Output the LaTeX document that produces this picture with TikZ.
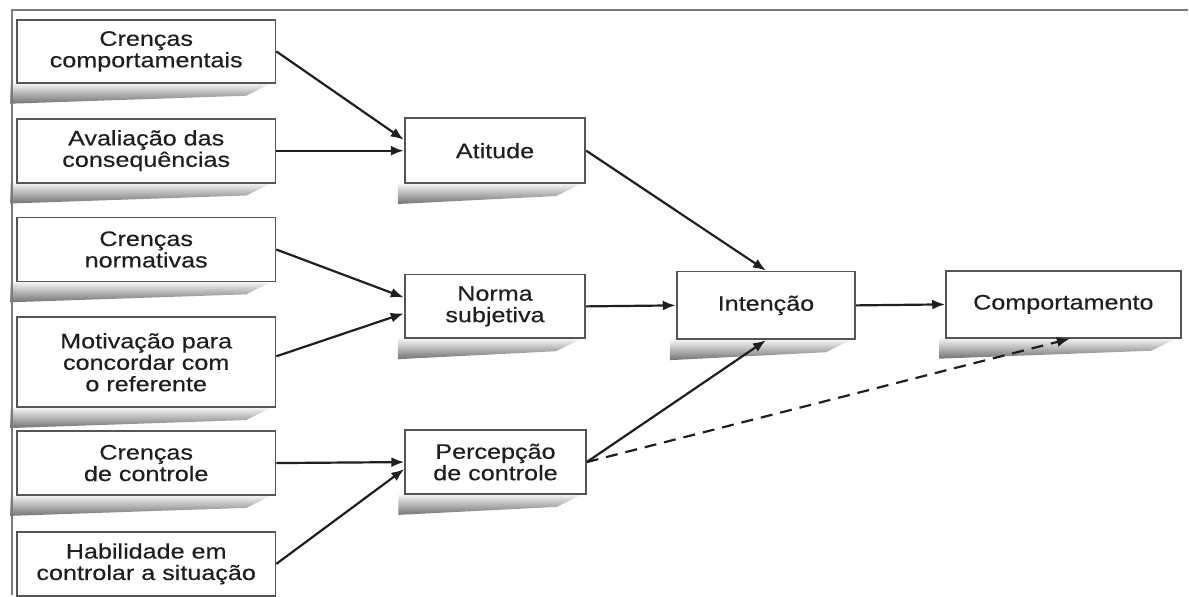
\documentclass[tikz,border=0pt]{standalone}
\usepackage{fontspec}
\setmainfont{Liberation Sans}[FakeStretch=1.2,FakeBold=0.3]
\usetikzlibrary{arrows.meta,fadings}
\definecolor{txt}{HTML}{1E1E1E}
\definecolor{frame}{HTML}{7A7A7A}
\definecolor{boxline}{HTML}{555555}
\pgfdeclarelayer{bg}
\pgfdeclarelayer{shade}
\pgfsetlayers{bg,shade,main}
\begin{document}
\begin{tikzpicture}[x=1pt,y=-1pt,
  box/.style={draw=boxline,line width=1.8pt,fill=white,align=center,text=txt,
    font=\fontsize{21}{21.5}\selectfont,inner sep=0pt},
  shad/.style={fill=black!55,path fading=north,draw=none},
  conn/.style={line width=2.2pt,draw=black!88,-{Latex[length=13pt,width=10pt]}},
  dconn/.style={conn,dash pattern=on 12pt off 8pt}]
\begin{pgfonlayer}{bg}
\useasboundingbox[fill=white] (0,0) rectangle (1189,594);
\end{pgfonlayer}
\draw[frame,line width=2.8pt] (12,596) -- (12,10) -- (1190,10);
% left column
\node[box,minimum width=259pt,minimum height=63pt] (cc) at (146.5,51.5) {Crenças\\comportamentais};
\node[box,minimum width=259pt,minimum height=64pt] (av) at (146.5,151) {Avaliação das\\consequências};
\node[box,minimum width=259pt,minimum height=64pt] (cn) at (146.5,250) {Crenças\\normativas};
\node[box,minimum width=259pt,minimum height=90pt] (mo) at (146.5,363) {Motivação para\\concordar com\\o referente};
\node[box,minimum width=259pt,minimum height=64pt] (cdc) at (146.5,464) {Crenças\\de controle};
\node[box,minimum width=259pt,minimum height=64pt] (hab) at (146.5,565) {Habilidade em\\controlar a situação};
% middle column
\node[box,minimum width=181pt,minimum height=65pt] (at) at (496,151) {Atitude};
\node[box,minimum width=181pt,minimum height=64pt] (ns) at (496,307) {Norma\\subjetiva};
\node[box,minimum width=181pt,minimum height=64pt] (pc) at (496.5,463) {Percepção\\de controle};
% right
\node[box,minimum width=179pt,minimum height=68pt] (in) at (767.5,306) {Intenção};
\node[box,minimum width=235pt,minimum height=67pt] (co) at (1065.5,305) {Comportamento};
% shadows
\begin{pgfonlayer}{shade}
\foreach \n in {cc,av,cn,mo,cdc,at,ns,pc,in,co}{
  \fill[shad] ([xshift=-6pt,yshift=2pt]\n.south west) -- ([xshift=-2pt,yshift=2pt]\n.south east)
    -- ([xshift=-30pt,yshift=-12pt]\n.south east) -- ([xshift=-6pt,yshift=-20pt]\n.south west) -- cycle;
}
\end{pgfonlayer}
% connectors
\draw[conn] (cc.east) -- ([yshift=11pt]at.west);
\draw[conn] (av.east) -- (at.west);
\draw[conn] (cn.east) -- ([yshift=9pt]ns.west);
\draw[conn] ([yshift=6pt]mo.east) -- ([yshift=-7pt]ns.west);
\draw[conn] (cdc.east) -- (pc.west);
\draw[conn] (hab.east) -- ([yshift=-7pt]pc.west);
\draw[conn] (at.east) -- (in.north);
\draw[conn] (ns.east) -- (in.west);
\draw[conn] (pc.east) -- (in.south);
\draw[conn] (in.east) -- (co.west);
\draw[dconn] (pc.east) -- ([xshift=6.5pt]co.south);
\end{tikzpicture}
\end{document}
